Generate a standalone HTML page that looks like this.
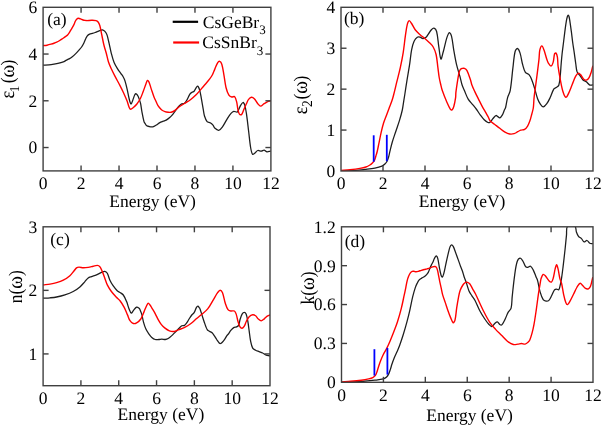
<!DOCTYPE html>
<html><head><meta charset="utf-8"><title>Optical properties</title>
<style>
html,body{margin:0;padding:0;background:#fff;}
body{width:602px;height:425px;overflow:hidden;font-family:"Liberation Serif",serif;}
svg{display:block;will-change:transform;}
</style></head><body>
<svg width="602" height="425" viewBox="0 0 602 425" font-family='"Liberation Serif", serif' fill="#000" text-rendering="geometricPrecision"><defs><clipPath id="cpa"><rect x="43.10" y="7.30" width="227.80" height="163.60"/></clipPath><clipPath id="cpb"><rect x="341.00" y="7.30" width="252.00" height="163.70"/></clipPath><clipPath id="cpc"><rect x="43.10" y="226.80" width="226.90" height="158.90"/></clipPath><clipPath id="cpd"><rect x="341.50" y="226.80" width="251.50" height="155.50"/></clipPath></defs><path clip-path="url(#cpa)" d="M43.00,65.10 C45.00,65.00 47.01,64.98 49.00,64.80 C50.67,64.65 52.34,64.38 54.00,64.10 C55.67,63.82 57.35,63.51 59.00,63.10 C60.69,62.68 62.39,62.22 64.00,61.60 C64.72,61.32 65.32,60.77 66.00,60.40 C66.98,59.87 68.02,59.44 69.00,58.90 C70.02,58.34 71.09,57.82 72.00,57.10 C73.42,55.98 74.72,54.68 76.00,53.40 C76.98,52.42 77.88,51.35 78.80,50.30 C79.75,49.21 80.78,48.18 81.60,47.00 C82.48,45.74 83.21,44.37 83.90,43.00 C84.55,41.71 84.98,40.31 85.60,39.00 C86.11,37.94 86.56,36.78 87.30,35.90 C87.90,35.18 88.76,34.61 89.60,34.20 C90.46,33.78 91.47,33.68 92.40,33.40 C93.34,33.12 94.27,32.82 95.20,32.50 C95.71,32.32 96.20,32.10 96.70,31.90 C98.10,31.33 99.48,30.70 100.90,30.20 C101.38,30.03 101.94,29.76 102.40,29.90 C103.27,30.16 104.26,30.71 104.90,31.40 C105.79,32.37 106.55,33.63 107.00,34.90 C107.95,37.63 108.44,40.56 109.10,43.40 C109.87,46.69 110.44,50.03 111.30,53.30 C112.11,56.40 112.90,59.55 114.10,62.50 C115.00,64.71 116.34,66.76 117.60,68.80 C118.67,70.53 119.93,72.13 121.10,73.80 C121.73,74.70 122.47,75.54 123.00,76.50 C123.73,77.81 124.44,79.17 124.90,80.60 C125.80,83.37 126.43,86.25 127.10,89.10 C127.87,92.38 128.35,95.74 129.20,99.00 C129.65,100.71 130.33,103.73 131.00,104.00 C131.50,104.20 132.19,101.63 132.70,100.40 C133.46,98.56 133.89,96.51 134.80,94.80 C135.06,94.31 135.80,93.63 136.20,93.80 C136.90,94.10 137.68,95.28 138.10,96.20 C139.11,98.42 139.91,100.81 140.50,103.20 C141.18,105.98 141.36,108.88 141.90,111.70 C142.53,115.01 143.14,118.36 144.00,121.60 C144.17,122.23 144.65,122.74 145.00,123.30 C145.45,124.01 145.76,124.91 146.40,125.40 C147.16,125.98 148.23,126.29 149.20,126.50 C150.36,126.75 151.67,127.04 152.80,126.80 C154.03,126.54 155.18,125.67 156.30,125.00 C157.51,124.27 158.56,123.27 159.80,122.60 C160.90,122.00 162.13,121.66 163.30,121.20 C164.26,120.82 165.31,120.60 166.20,120.10 C167.44,119.40 168.64,118.55 169.70,117.60 C170.97,116.45 172.11,115.13 173.20,113.80 C174.21,112.56 175.03,111.17 176.00,109.90 C176.93,108.67 177.84,107.41 178.90,106.30 C179.74,105.41 180.65,104.48 181.70,103.90 C182.52,103.45 183.78,103.76 184.50,103.20 C185.55,102.39 186.28,101.01 187.00,99.80 C188.08,97.97 188.74,95.85 189.90,94.10 C190.40,93.35 191.24,92.81 192.00,92.30 C192.64,91.87 193.58,91.82 194.10,91.30 C194.74,90.66 194.99,89.60 195.50,88.80 C196.05,87.94 196.62,86.69 197.30,86.30 C197.62,86.12 198.27,86.70 198.50,87.10 C199.10,88.13 199.49,89.40 199.80,90.60 C200.39,92.90 200.77,95.26 201.20,97.60 C201.94,101.59 202.58,105.60 203.30,109.60 C203.68,111.74 203.85,113.95 204.50,116.00 C205.12,117.95 205.86,120.14 207.10,121.60 C207.76,122.38 209.27,122.15 210.20,122.70 C211.24,123.32 212.22,124.18 213.00,125.10 C213.72,125.94 213.90,127.27 214.70,128.00 C215.80,129.00 217.47,130.49 218.70,130.30 C220.07,130.09 221.49,128.18 222.50,126.80 C224.42,124.18 225.74,121.07 227.50,118.30 C228.57,116.61 229.67,114.88 231.00,113.40 C231.77,112.54 232.76,111.53 233.80,111.30 C234.86,111.06 236.54,112.60 237.30,112.00 C238.64,110.93 239.02,108.11 240.10,106.30 C240.92,104.94 242.05,102.79 243.00,102.50 C243.58,102.32 244.42,103.98 244.70,104.90 C245.59,107.84 246.04,111.01 246.50,114.10 C247.34,119.71 247.90,125.37 248.60,131.00 C249.30,136.67 249.74,142.39 250.70,148.00 C251.07,150.16 251.59,153.15 252.60,154.30 C253.03,154.78 254.26,153.44 255.00,152.90 C255.99,152.18 256.73,150.81 257.80,150.50 C258.83,150.21 260.16,151.17 261.30,151.10 C262.26,151.04 263.22,149.98 264.10,150.10 C265.12,150.24 265.96,151.74 267.00,151.90 C268.09,152.07 269.33,151.37 270.50,151.10" fill="none" stroke="#1e1e1e" stroke-width="1.28" stroke-linejoin="round" stroke-linecap="round"/><path clip-path="url(#cpa)" d="M43.00,45.60 C44.33,45.47 45.68,45.43 47.00,45.20 C48.35,44.96 49.68,44.59 51.00,44.20 C52.18,43.85 53.35,43.44 54.50,43.00 C55.68,42.54 56.88,42.09 58.00,41.50 C59.05,40.95 60.00,40.24 61.00,39.60 C61.83,39.07 62.68,38.56 63.50,38.00 C64.35,37.42 65.17,36.81 66.00,36.20 C66.54,35.81 67.16,35.49 67.60,35.00 C68.33,34.19 68.90,33.22 69.50,32.30 C70.10,31.39 70.65,30.44 71.20,29.50 C72.08,27.98 73.01,26.47 73.80,24.90 C74.38,23.74 74.71,22.45 75.30,21.30 C75.74,20.45 76.24,19.54 76.90,18.90 C77.27,18.54 77.89,18.30 78.40,18.30 C79.09,18.30 79.82,18.65 80.50,18.90 C81.38,19.22 82.20,19.74 83.10,20.00 C84.04,20.27 85.03,20.34 86.00,20.50 C86.27,20.54 86.53,20.61 86.80,20.60 C88.43,20.54 90.07,20.30 91.70,20.30 C93.13,20.30 94.65,20.24 96.00,20.60 C96.79,20.81 97.60,21.36 98.10,22.00 C98.87,22.99 99.44,24.26 99.80,25.50 C100.61,28.26 101.00,31.17 101.60,34.00 C102.37,37.67 103.01,41.36 103.90,45.00 C104.58,47.80 105.55,50.52 106.30,53.30 C107.05,56.09 107.52,58.96 108.40,61.70 C109.18,64.13 110.25,66.47 111.30,68.80 C112.38,71.20 113.59,73.56 114.80,75.90 C116.49,79.16 118.31,82.34 120.00,85.60 C121.21,87.94 122.40,90.30 123.50,92.70 C124.77,95.47 126.01,98.26 127.10,101.10 C127.91,103.19 128.33,105.46 129.20,107.50 C129.50,108.19 130.03,109.30 130.60,109.30 C131.43,109.30 132.56,108.21 133.40,107.50 C134.66,106.44 135.90,105.30 136.90,104.00 C138.26,102.23 139.50,100.30 140.50,98.30 C141.63,96.03 142.40,93.58 143.30,91.20 C144.27,88.65 145.11,86.04 146.10,83.50 C146.51,82.44 146.92,80.68 147.50,80.40 C147.89,80.21 148.70,81.42 149.00,82.10 C149.97,84.32 150.52,86.77 151.30,89.10 C152.25,91.94 153.14,94.80 154.20,97.60 C154.58,98.60 155.14,99.53 155.60,100.50 C156.41,102.20 157.01,104.02 158.00,105.60 C158.88,107.02 160.01,108.33 161.20,109.50 C161.85,110.13 162.69,110.59 163.50,111.00 C164.35,111.43 165.26,111.84 166.20,112.00 C167.80,112.27 169.54,112.56 171.10,112.30 C172.34,112.09 173.53,111.32 174.60,110.60 C176.13,109.56 177.38,108.09 178.90,107.00 C180.68,105.72 182.64,104.68 184.50,103.50 C186.47,102.25 188.53,101.10 190.40,99.70 C192.40,98.20 194.33,96.57 196.10,94.80 C198.10,92.80 199.83,90.53 201.70,88.40 C203.13,86.77 204.59,85.16 206.00,83.50 C207.19,82.09 208.40,80.68 209.50,79.20 C210.50,77.85 211.52,76.48 212.30,75.00 C213.29,73.12 213.95,71.06 214.80,69.10 C215.72,66.99 216.41,64.69 217.60,62.80 C218.04,62.09 219.11,61.10 219.70,61.30 C220.51,61.57 221.45,63.08 221.80,64.20 C222.85,67.58 223.26,71.26 223.90,74.80 C224.66,79.02 224.98,83.35 226.00,87.50 C226.65,90.15 227.55,92.95 228.90,95.20 C229.45,96.11 230.69,96.75 231.70,97.00 C232.56,97.21 233.94,96.07 234.50,96.60 C235.57,97.61 236.15,99.86 236.60,101.60 C237.31,104.33 237.35,107.25 238.00,110.00 C238.35,111.51 238.76,113.35 239.60,114.40 C239.96,114.85 241.21,114.93 241.60,114.50 C242.58,113.43 243.01,111.44 243.70,109.90 C244.65,107.77 245.52,105.61 246.50,103.50 C247.15,102.11 247.67,100.57 248.60,99.40 C249.31,98.51 250.41,97.42 251.40,97.30 C252.31,97.19 253.56,97.96 254.30,98.70 C255.70,100.10 256.49,102.16 257.80,103.70 C258.59,104.63 259.62,106.10 260.60,106.10 C261.72,106.10 262.91,104.46 264.10,103.70 C265.27,102.96 266.44,102.15 267.70,101.60 C268.57,101.22 269.57,101.13 270.50,100.90" fill="none" stroke="#ff0000" stroke-width="1.4" stroke-linejoin="round" stroke-linecap="round"/><path clip-path="url(#cpb)" d="M341.20,170.90 C345.80,170.73 350.41,170.69 355.00,170.40 C358.31,170.19 361.61,169.78 364.90,169.40 C368.24,169.01 371.60,168.72 374.90,168.10 C377.27,167.65 379.70,167.10 381.90,166.20 C383.03,165.74 384.00,164.84 384.90,164.00 C385.67,163.28 386.41,162.43 386.90,161.50 C387.64,160.10 388.14,158.53 388.60,157.00 C389.14,155.17 389.44,153.26 389.90,151.40 C390.67,148.26 391.39,145.10 392.30,142.00 C393.32,138.53 394.56,135.13 395.70,131.70 C396.96,127.93 398.34,124.20 399.50,120.40 C400.54,116.97 401.54,113.50 402.30,110.00 C402.97,106.90 403.29,103.73 403.80,100.60 C404.13,98.57 404.48,96.54 404.80,94.50 C405.51,89.94 406.17,85.36 406.90,80.80 C407.80,75.16 408.84,69.54 409.70,63.90 C410.41,59.21 410.70,54.44 411.60,49.80 C412.16,46.91 412.90,43.95 414.10,41.30 C414.80,39.75 416.00,38.09 417.30,37.20 C418.00,36.72 419.21,36.99 420.10,37.20 C421.08,37.43 421.94,38.43 422.90,38.50 C423.81,38.57 424.98,38.20 425.70,37.60 C426.85,36.63 427.58,35.08 428.50,33.80 C429.48,32.44 430.25,30.87 431.40,29.70 C432.09,29.00 433.28,27.95 434.00,28.20 C435.01,28.55 436.26,30.18 436.60,31.50 C437.86,36.34 438.01,41.64 438.80,46.70 C439.45,50.84 439.98,57.99 440.90,59.10 C441.45,59.76 442.53,54.40 443.20,52.00 C444.50,47.33 445.33,42.50 446.80,37.90 C447.40,36.03 448.48,32.93 449.40,32.60 C450.05,32.37 451.17,34.87 451.50,36.20 C452.64,40.77 452.97,45.61 453.80,50.30 C454.64,55.01 455.41,59.75 456.50,64.40 C457.47,68.55 458.88,72.59 460.00,76.70 C460.75,79.45 461.24,82.29 462.10,85.00 C462.71,86.92 463.60,88.75 464.40,90.60 C465.63,93.45 466.62,96.46 468.20,99.10 C469.45,101.19 471.35,102.88 472.90,104.80 C474.15,106.35 475.43,107.89 476.60,109.50 C477.93,111.32 479.06,113.29 480.40,115.10 C481.60,116.72 482.78,118.40 484.20,119.80 C485.28,120.86 486.58,121.93 487.90,122.50 C488.51,122.76 489.48,122.70 490.00,122.30 C491.18,121.37 491.93,119.71 493.00,118.50 C493.93,117.44 494.94,116.00 496.00,115.50 C496.44,115.30 497.00,116.10 497.50,116.40 C498.27,116.86 499.14,118.02 499.80,117.80 C500.77,117.48 501.73,115.92 502.40,114.80 C503.23,113.42 503.65,111.79 504.30,110.30 C504.71,109.36 505.34,108.49 505.60,107.50 C506.44,104.26 506.72,100.84 507.60,97.60 C508.25,95.21 509.77,93.04 510.20,90.60 C511.53,83.14 511.96,75.46 512.90,67.90 C513.56,62.59 513.84,57.13 515.00,52.00 C515.30,50.66 516.55,48.37 517.30,48.50 C518.22,48.67 519.46,51.29 520.00,52.90 C521.23,56.59 521.55,60.62 522.60,64.40 C523.35,67.12 523.96,70.13 525.40,72.40 C526.16,73.60 528.28,73.69 529.20,74.80 C530.48,76.35 531.23,78.47 532.00,80.40 C533.10,83.17 533.93,86.05 534.80,88.90 C535.79,92.15 536.43,95.53 537.60,98.70 C538.33,100.69 539.30,102.68 540.50,104.40 C541.20,105.41 542.37,107.00 543.30,106.90 C544.47,106.77 545.88,104.96 546.80,103.70 C548.21,101.76 549.25,99.49 550.30,97.30 C551.62,94.56 552.33,91.38 553.90,88.90 C554.46,88.01 555.82,87.84 556.70,87.20 C557.46,86.64 558.53,86.16 558.80,85.30 C559.69,82.50 559.86,79.25 560.20,76.20 C560.66,71.98 560.84,67.73 561.20,63.50 C561.47,60.26 561.75,57.03 562.10,53.80 C562.51,50.03 563.03,46.27 563.50,42.50 C563.97,38.73 564.40,34.96 564.90,31.20 C565.34,27.90 565.74,24.58 566.30,21.30 C566.57,19.68 566.92,18.05 567.40,16.50 C567.55,16.02 567.93,15.20 568.20,15.20 C568.47,15.20 568.87,16.02 569.00,16.50 C569.43,18.05 569.65,19.69 569.90,21.30 C570.42,24.59 570.86,27.90 571.30,31.20 C571.80,34.96 572.18,38.74 572.70,42.50 C573.22,46.27 573.86,50.03 574.40,53.80 C574.89,57.20 575.29,60.61 575.80,64.00 C576.19,66.64 576.21,69.47 577.10,71.90 C577.61,73.30 579.09,74.26 580.00,75.50 C580.99,76.86 581.64,78.54 582.80,79.70 C583.74,80.64 585.23,80.97 586.30,81.80 C587.56,82.77 588.47,84.46 589.80,85.10 C590.60,85.49 591.73,84.97 592.70,84.90" fill="none" stroke="#1e1e1e" stroke-width="1.28" stroke-linejoin="round" stroke-linecap="round"/><path clip-path="url(#cpb)" d="M341.20,170.40 C344.13,170.17 347.08,170.01 350.00,169.70 C353.31,169.35 356.62,168.96 359.90,168.40 C361.92,168.06 363.97,167.66 365.90,167.00 C367.30,166.52 368.64,165.78 369.90,165.00 C370.80,164.44 371.65,163.75 372.40,163.00 C373.15,162.25 373.93,161.44 374.40,160.50 C375.10,159.11 375.43,157.51 375.90,156.00 C376.36,154.51 376.84,153.02 377.20,151.50 C377.80,148.98 378.28,146.44 378.80,143.90 C379.58,140.14 380.25,136.35 381.10,132.60 C381.82,129.45 382.55,126.29 383.50,123.20 C384.28,120.65 385.37,118.20 386.30,115.70 C387.23,113.20 388.16,110.70 389.10,108.20 C390.06,105.66 391.13,103.16 392.00,100.60 C392.63,98.76 393.12,96.88 393.60,95.00 C394.65,90.91 395.60,86.80 396.60,82.70 C397.83,77.67 399.19,72.66 400.30,67.60 C401.39,62.63 402.40,57.63 403.20,52.60 C404.10,46.99 404.58,41.32 405.40,35.70 C405.95,31.92 406.38,28.07 407.30,24.40 C407.64,23.04 408.44,20.76 409.20,20.60 C409.87,20.46 410.91,22.46 411.60,23.50 C412.98,25.59 413.90,28.02 415.40,30.00 C416.73,31.75 418.46,33.22 420.10,34.70 C421.59,36.05 423.27,37.19 424.80,38.50 C426.41,39.89 428.01,41.29 429.50,42.80 C430.81,44.13 432.30,45.40 433.20,47.00 C434.50,49.30 435.51,51.90 436.10,54.50 C437.07,58.77 437.31,63.23 437.90,67.60 C438.34,70.90 438.66,74.22 439.20,77.50 C439.56,79.69 440.09,81.84 440.60,84.00 C441.12,86.21 441.56,88.46 442.30,90.60 C443.63,94.46 445.18,98.25 446.80,102.00 C447.85,104.42 448.91,106.95 450.30,109.10 C450.64,109.62 451.62,110.28 452.00,110.00 C452.78,109.42 453.44,107.75 453.80,106.50 C454.64,103.62 455.16,100.59 455.60,97.60 C455.86,95.89 455.69,94.12 455.90,92.40 C456.43,88.06 457.11,83.72 457.80,79.40 C458.18,77.02 458.50,74.62 459.10,72.30 C459.37,71.25 459.78,70.12 460.40,69.30 C460.74,68.85 461.43,68.64 462.00,68.50 C462.77,68.31 463.72,68.01 464.40,68.30 C465.38,68.71 466.48,69.60 467.00,70.60 C468.55,73.60 469.49,77.04 470.60,80.30 C471.12,81.84 471.34,83.48 471.90,85.00 C472.74,87.25 473.78,89.42 474.80,91.60 C475.98,94.12 477.25,96.61 478.50,99.10 C479.75,101.61 480.97,104.13 482.30,106.60 C483.50,108.83 484.84,110.99 486.10,113.20 C486.91,114.63 487.75,116.04 488.50,117.50 C489.05,118.57 489.22,119.93 490.00,120.80 C491.22,122.16 493.01,123.06 494.50,124.20 C496.27,125.56 498.02,126.96 499.80,128.30 C501.52,129.59 503.16,131.03 505.00,132.10 C506.42,132.93 508.01,133.72 509.60,134.00 C511.04,134.25 512.69,134.10 514.10,133.70 C515.42,133.33 516.56,132.35 517.80,131.70 C518.79,131.18 519.75,130.56 520.80,130.20 C522.02,129.79 523.54,130.04 524.60,129.40 C525.81,128.67 526.83,127.35 527.60,126.10 C528.60,124.48 529.27,122.62 529.90,120.80 C530.67,118.58 531.20,116.27 531.80,114.00 C532.33,112.01 533.02,110.04 533.30,108.00 C533.79,104.47 533.70,100.85 534.10,97.30 C534.90,90.25 535.99,83.24 536.90,76.20 C537.63,70.54 538.37,64.87 539.00,59.20 C539.34,56.17 539.16,53.03 539.80,50.10 C540.13,48.59 541.20,45.90 541.90,45.90 C542.60,45.90 543.46,48.63 544.00,50.10 C545.10,53.10 545.79,56.26 546.80,59.30 C547.19,60.49 547.54,61.75 548.20,62.80 C548.94,63.98 550.19,66.11 551.00,66.00 C551.85,65.88 552.79,63.51 553.20,62.10 C553.99,59.41 553.81,56.26 554.60,53.70 C554.74,53.23 555.76,52.70 556.00,53.00 C556.69,53.86 557.17,55.75 557.40,57.20 C557.87,60.19 557.71,63.29 558.10,66.30 C558.65,70.55 559.39,74.79 560.20,79.00 C561.02,83.26 561.72,87.59 563.00,91.70 C563.62,93.69 564.84,97.04 565.90,97.30 C566.74,97.51 567.96,94.60 568.70,93.10 C570.06,90.37 571.03,87.43 572.20,84.60 C573.36,81.80 574.25,78.81 575.70,76.20 C576.38,74.98 577.58,73.39 578.60,73.10 C579.25,72.92 580.13,74.11 580.70,74.80 C581.76,76.08 582.33,77.89 583.50,79.00 C584.20,79.66 585.47,80.31 586.30,80.10 C587.34,79.84 588.47,78.64 589.10,77.60 C590.13,75.91 590.68,73.84 591.30,71.90 C591.88,70.07 592.23,68.17 592.70,66.30" fill="none" stroke="#ff0000" stroke-width="1.4" stroke-linejoin="round" stroke-linecap="round"/><path clip-path="url(#cpc)" d="M43.30,298.20 C45.53,298.07 47.77,298.00 50.00,297.80 C52.21,297.60 54.43,297.42 56.60,297.00 C59.40,296.46 62.20,295.80 64.90,294.90 C67.73,293.96 70.58,292.90 73.20,291.50 C75.58,290.23 77.84,288.64 79.90,286.90 C81.74,285.34 83.25,283.39 84.90,281.60 C86.02,280.39 86.92,278.87 88.20,277.90 C89.12,277.20 90.39,277.00 91.50,276.60 C93.16,276.00 94.88,275.58 96.50,274.90 C98.21,274.18 99.79,273.14 101.50,272.40 C102.56,271.94 103.79,271.14 104.80,271.30 C105.73,271.44 106.78,272.41 107.30,273.30 C108.45,275.27 108.81,277.78 109.80,279.90 C110.74,281.91 111.85,283.87 113.10,285.70 C114.31,287.47 115.68,289.20 117.20,290.70 C117.98,291.47 119.09,291.86 120.00,292.50 C121.13,293.29 122.51,293.91 123.30,295.00 C124.71,296.94 125.67,299.33 126.60,301.60 C127.60,304.03 128.11,306.67 129.10,309.10 C129.68,310.53 130.47,312.88 131.30,313.20 C131.87,313.42 132.60,311.51 133.30,310.70 C134.37,309.47 135.36,307.63 136.60,307.10 C137.29,306.80 138.41,307.67 139.10,308.20 C139.54,308.54 139.77,309.17 140.00,309.70 C140.67,311.23 141.35,312.79 141.80,314.40 C142.51,316.92 142.79,319.57 143.50,322.10 C144.16,324.47 144.89,326.87 145.90,329.10 C146.66,330.77 147.74,332.30 148.80,333.80 C149.70,335.07 150.64,336.38 151.80,337.40 C152.81,338.28 154.04,339.12 155.30,339.50 C156.38,339.82 157.64,339.57 158.80,339.50 C159.80,339.44 160.80,339.10 161.80,339.10 C162.97,339.10 164.16,339.61 165.30,339.50 C166.29,339.41 167.34,339.02 168.20,338.50 C169.50,337.72 170.66,336.63 171.80,335.60 C173.02,334.50 174.14,333.27 175.30,332.10 C176.47,330.91 177.60,329.66 178.80,328.50 C179.77,327.56 180.67,326.42 181.80,325.80 C182.57,325.38 183.75,325.81 184.50,325.40 C185.32,324.95 185.93,324.00 186.50,323.20 C187.56,321.70 188.40,320.05 189.40,318.50 C190.17,317.31 190.92,316.10 191.80,315.00 C192.49,314.14 193.52,313.53 194.10,312.60 C195.09,311.00 195.54,309.01 196.50,307.40 C196.81,306.88 197.47,306.13 197.90,306.20 C198.43,306.29 198.88,307.35 199.40,307.90 C199.51,308.02 199.75,308.04 199.80,308.20 C200.91,311.41 201.85,314.74 202.90,318.00 C203.35,319.40 203.82,320.80 204.30,322.20 C204.79,323.64 205.22,325.10 205.80,326.50 C206.29,327.70 206.73,329.01 207.50,330.00 C208.00,330.64 208.88,330.96 209.60,331.40 C210.42,331.90 211.41,332.17 212.10,332.80 C212.94,333.57 213.54,334.64 214.20,335.60 C215.07,336.87 215.84,338.22 216.70,339.50 C217.50,340.69 218.23,342.01 219.20,343.00 C219.53,343.34 220.17,343.60 220.60,343.50 C221.20,343.36 221.82,342.79 222.30,342.30 C223.22,341.36 224.05,340.29 224.80,339.20 C225.58,338.06 226.11,336.74 226.90,335.60 C227.31,335.00 227.96,334.58 228.40,334.00 C229.26,332.85 229.89,331.50 230.80,330.40 C231.65,329.37 232.59,328.28 233.70,327.60 C234.49,327.11 235.64,327.29 236.50,326.90 C237.27,326.55 238.24,326.13 238.60,325.40 C239.41,323.76 239.43,321.64 240.00,319.80 C240.60,317.87 241.12,315.79 242.10,314.10 C242.55,313.33 243.59,312.40 244.30,312.40 C244.93,312.40 245.80,313.36 246.10,314.10 C246.97,316.29 247.36,318.81 247.80,321.20 C248.40,324.48 248.73,327.80 249.20,331.10 C249.67,334.40 249.93,337.74 250.60,341.00 C251.10,343.41 251.58,346.03 252.70,348.10 C253.24,349.10 254.56,349.63 255.60,350.20 C256.69,350.80 257.93,351.13 259.10,351.60 C260.27,352.07 261.48,352.45 262.60,353.00 C263.84,353.61 264.93,354.58 266.20,355.10 C267.23,355.52 268.40,355.57 269.50,355.80" fill="none" stroke="#1e1e1e" stroke-width="1.28" stroke-linejoin="round" stroke-linecap="round"/><path clip-path="url(#cpc)" d="M43.30,284.90 C45.53,284.63 47.78,284.47 50.00,284.10 C52.22,283.73 54.45,283.33 56.60,282.70 C58.88,282.03 61.21,281.30 63.30,280.20 C65.64,278.97 67.91,277.43 69.90,275.70 C71.51,274.30 72.71,272.44 74.10,270.80 C74.91,269.84 75.54,268.63 76.50,267.90 C77.17,267.39 78.15,267.11 79.00,267.10 C80.38,267.08 81.79,267.75 83.20,267.80 C84.86,267.85 86.55,267.65 88.20,267.40 C89.88,267.15 91.53,266.67 93.20,266.30 C94.57,266.00 95.98,265.34 97.30,265.40 C98.18,265.44 99.25,265.91 99.80,266.60 C100.91,267.98 101.56,269.89 102.30,271.60 C103.23,273.76 103.97,276.00 104.80,278.20 C105.64,280.43 106.25,282.78 107.30,284.90 C108.45,287.21 109.87,289.42 111.40,291.50 C112.91,293.55 114.67,295.43 116.40,297.30 C117.54,298.53 118.98,299.48 120.00,300.80 C121.58,302.85 122.98,305.10 124.20,307.40 C125.48,309.80 126.41,312.40 127.50,314.90 C128.34,316.83 128.85,319.00 130.00,320.70 C130.79,321.87 132.06,323.09 133.30,323.50 C134.26,323.82 135.68,323.45 136.60,322.90 C138.18,321.95 139.76,320.56 140.80,319.00 C142.26,316.79 143.02,314.08 144.10,311.60 C144.95,309.64 145.67,307.61 146.60,305.70 C147.03,304.81 147.59,303.33 148.20,303.20 C148.72,303.09 149.49,304.33 150.00,305.00 C150.69,305.90 151.21,306.93 151.80,307.90 C152.98,309.86 154.21,311.79 155.30,313.80 C156.34,315.72 157.14,317.79 158.20,319.70 C159.10,321.32 160.05,322.95 161.20,324.40 C162.22,325.69 163.41,326.88 164.70,327.90 C166.15,329.05 167.71,330.25 169.40,330.90 C170.84,331.45 172.58,331.69 174.10,331.50 C175.71,331.29 177.24,330.31 178.80,329.70 C180.77,328.94 182.82,328.34 184.70,327.40 C186.75,326.37 188.74,325.15 190.60,323.80 C192.28,322.58 193.73,321.06 195.30,319.70 C196.66,318.53 198.02,317.35 199.40,316.20 C199.78,315.88 200.22,315.63 200.60,315.30 C202.99,313.20 205.70,311.34 207.70,308.90 C209.93,306.17 211.44,302.84 213.30,299.80 C214.74,297.44 216.00,294.93 217.60,292.70 C218.27,291.77 219.27,290.30 220.10,290.30 C220.91,290.30 222.09,291.68 222.50,292.70 C223.82,296.01 224.17,299.83 225.30,303.30 C226.01,305.47 226.74,307.84 228.00,309.60 C228.57,310.40 229.81,310.78 230.80,311.00 C231.94,311.25 233.50,310.48 234.40,311.00 C235.30,311.52 235.82,312.98 236.20,314.10 C236.98,316.38 237.21,318.87 237.90,321.20 C238.48,323.14 239.01,325.23 240.00,326.90 C240.41,327.59 241.46,328.42 242.10,328.30 C242.89,328.15 243.77,326.97 244.30,326.10 C245.21,324.61 245.58,322.77 246.40,321.20 C247.21,319.64 248.00,317.92 249.20,316.70 C250.10,315.78 251.49,314.97 252.70,314.80 C253.63,314.67 254.81,315.21 255.60,315.80 C256.71,316.64 257.34,318.14 258.40,319.10 C259.21,319.84 260.27,320.90 261.20,320.90 C262.13,320.90 263.14,319.79 264.00,319.10 C265.04,318.26 265.81,317.05 266.90,316.30 C267.81,315.68 268.97,315.43 270.00,315.00" fill="none" stroke="#ff0000" stroke-width="1.4" stroke-linejoin="round" stroke-linecap="round"/><path clip-path="url(#cpd)" d="M341.90,382.30 C348.33,382.03 354.78,381.91 361.20,381.50 C365.78,381.21 370.35,380.73 374.90,380.20 C377.75,379.87 380.68,379.64 383.40,378.90 C384.58,378.58 385.72,377.83 386.60,377.00 C387.49,376.16 388.15,375.01 388.70,373.90 C389.38,372.54 389.82,371.05 390.30,369.60 C390.88,367.85 391.32,366.05 391.90,364.30 C392.55,362.35 393.22,360.40 394.00,358.50 C394.95,356.17 396.10,353.92 397.10,351.60 C397.97,349.58 398.85,347.56 399.60,345.50 C400.88,341.96 402.09,338.39 403.20,334.80 C404.55,330.43 405.81,326.02 407.00,321.60 C408.01,317.85 408.94,314.08 409.80,310.30 C410.80,305.92 411.54,301.47 412.60,297.10 C413.37,293.90 414.27,290.72 415.30,287.60 C415.77,286.16 416.41,284.76 417.10,283.40 C417.71,282.19 418.33,280.91 419.20,279.90 C419.86,279.14 420.84,278.65 421.70,278.10 C422.50,277.59 423.43,277.25 424.20,276.70 C425.06,276.09 425.89,275.38 426.60,274.60 C427.29,273.85 427.92,273.00 428.40,272.10 C428.99,271.00 429.32,269.76 429.80,268.60 C430.25,267.53 430.70,266.45 431.20,265.40 C431.87,263.99 432.65,262.62 433.30,261.20 C433.61,260.52 433.79,259.78 434.10,259.10 C434.46,258.31 434.79,257.48 435.30,256.80 C435.59,256.41 436.22,255.70 436.50,255.90 C437.06,256.30 437.56,257.64 437.80,258.60 C438.53,261.54 438.82,264.61 439.40,267.60 C439.88,270.08 440.27,272.61 441.00,275.00 C441.24,275.78 441.93,277.25 442.30,277.10 C442.83,276.89 443.39,275.02 443.70,273.90 C444.56,270.78 445.10,267.57 445.80,264.40 C446.50,261.20 447.14,257.98 447.90,254.80 C448.54,252.15 449.07,249.42 450.00,246.90 C450.30,246.09 451.03,244.89 451.60,244.80 C452.09,244.72 452.85,245.75 453.20,246.40 C454.08,248.05 454.63,249.92 455.30,251.70 C456.23,254.16 457.11,256.63 458.00,259.10 C458.88,261.56 459.69,264.05 460.60,266.50 C461.16,268.01 461.88,269.47 462.40,271.00 C463.04,272.87 463.47,274.82 464.10,276.70 C464.74,278.62 465.54,280.49 466.20,282.40 C467.17,285.22 467.84,288.17 469.00,290.90 C469.74,292.64 470.88,294.20 471.90,295.80 C472.85,297.30 474.07,298.64 474.90,300.20 C476.70,303.60 478.00,307.29 479.80,310.70 C481.30,313.55 483.01,316.32 484.80,319.00 C486.08,320.92 487.44,322.83 489.00,324.50 C489.77,325.33 490.93,326.65 491.80,326.50 C492.87,326.32 493.72,324.40 494.80,323.50 C495.55,322.87 496.55,321.75 497.30,321.90 C498.21,322.08 498.84,323.86 499.80,324.50 C500.34,324.86 501.37,325.30 501.80,324.90 C503.03,323.76 503.93,321.63 504.80,319.90 C506.03,317.47 506.81,314.79 508.10,312.40 C508.91,310.89 510.68,309.82 511.10,308.20 C512.05,304.55 511.78,300.46 512.20,296.60 C512.98,289.33 513.67,282.04 514.70,274.80 C515.34,270.34 515.82,265.66 517.20,261.50 C517.65,260.13 519.19,258.29 520.20,258.20 C521.06,258.12 522.12,259.94 522.80,261.00 C523.92,262.74 524.39,265.05 525.60,266.60 C526.03,267.15 527.01,267.36 527.70,267.30 C528.64,267.22 529.78,265.84 530.50,266.20 C531.65,266.77 532.57,268.69 533.30,270.10 C534.47,272.36 535.23,274.83 536.20,277.20 C536.66,278.33 537.29,279.42 537.60,280.60 C538.59,284.32 539.02,288.21 540.10,291.90 C540.88,294.58 541.77,297.47 543.20,299.70 C543.73,300.53 545.03,300.98 546.00,301.10 C546.93,301.21 548.24,301.05 548.90,300.40 C550.14,299.18 550.82,297.16 551.70,295.50 C552.69,293.63 553.29,291.38 554.50,289.80 C554.92,289.25 555.90,289.10 556.60,289.10 C557.30,289.10 558.31,290.19 558.70,289.80 C559.48,289.02 559.75,287.03 560.10,285.60 C560.72,283.03 561.19,280.41 561.60,277.80 C562.15,274.31 562.57,270.81 563.00,267.30 C563.74,261.21 564.44,255.10 565.10,249.00 C565.61,244.30 566.00,239.60 566.50,234.90 C566.80,232.06 565.99,227.91 567.50,226.40 C568.82,225.08 573.32,225.35 575.00,226.40 C576.29,227.21 575.76,230.20 576.40,232.00 C576.93,233.50 577.56,235.07 578.50,236.30 C579.19,237.20 580.48,237.58 581.30,238.40 C582.35,239.45 582.99,241.49 584.10,241.90 C584.89,242.19 586.15,240.29 587.00,240.50 C588.05,240.76 588.72,242.67 589.80,243.30 C590.49,243.70 591.47,243.50 592.30,243.60" fill="none" stroke="#1e1e1e" stroke-width="1.28" stroke-linejoin="round" stroke-linecap="round"/><path clip-path="url(#cpd)" d="M341.90,381.90 C344.80,381.70 347.70,381.56 350.60,381.30 C354.14,380.99 357.68,380.67 361.20,380.20 C363.68,379.87 366.16,379.45 368.60,378.90 C370.03,378.58 371.52,378.26 372.80,377.60 C373.79,377.09 374.76,376.30 375.40,375.40 C376.16,374.33 376.55,372.96 377.00,371.70 C377.61,370.00 378.03,368.22 378.60,366.50 C379.26,364.52 379.94,362.54 380.70,360.60 C381.47,358.64 382.27,356.69 383.20,354.80 C384.24,352.69 385.55,350.71 386.60,348.60 C387.81,346.17 388.93,343.69 390.00,341.20 C391.33,338.09 392.58,334.95 393.80,331.80 C395.08,328.49 396.42,325.18 397.50,321.80 C398.92,317.38 400.17,312.90 401.30,308.40 C402.40,304.03 403.25,299.60 404.20,295.20 C404.75,292.67 405.28,290.14 405.80,287.60 C406.28,285.27 406.63,282.91 407.20,280.60 C407.56,279.14 408.03,277.69 408.60,276.30 C409.10,275.09 409.64,273.83 410.40,272.80 C410.84,272.20 411.53,271.69 412.20,271.40 C412.70,271.19 413.34,271.24 413.90,271.30 C414.64,271.38 415.37,271.80 416.10,271.80 C416.90,271.80 417.72,271.53 418.50,271.30 C419.45,271.03 420.36,270.60 421.30,270.30 C422.26,270.00 423.23,269.74 424.20,269.50 C425.13,269.27 426.07,269.13 427.00,268.90 C427.94,268.66 428.89,268.44 429.80,268.10 C430.76,267.74 431.63,267.09 432.60,266.80 C433.39,266.56 434.33,266.36 435.10,266.50 C435.63,266.59 436.22,267.03 436.50,267.50 C437.05,268.43 437.32,269.61 437.60,270.70 C438.02,272.31 438.28,273.96 438.60,275.60 C438.98,277.50 439.31,279.41 439.70,281.30 C440.14,283.41 440.64,285.50 441.10,287.60 C441.61,289.93 441.96,292.31 442.60,294.60 C443.36,297.31 444.41,299.93 445.30,302.60 C446.18,305.23 446.98,307.89 447.90,310.50 C448.74,312.89 449.60,315.28 450.60,317.60 C451.37,319.38 452.25,322.24 453.20,322.80 C453.72,323.11 454.76,321.21 455.00,320.20 C455.93,316.24 456.07,311.99 456.70,307.90 C457.24,304.36 457.81,300.81 458.50,297.30 C458.97,294.91 459.39,292.47 460.20,290.20 C460.85,288.37 461.85,286.62 462.90,285.00 C463.45,284.16 464.20,283.38 465.00,282.80 C465.53,282.41 466.30,281.97 466.90,282.10 C467.87,282.31 469.01,282.99 469.70,283.80 C470.91,285.23 471.64,287.13 472.60,288.80 C473.54,290.43 474.57,292.01 475.40,293.70 C478.34,299.68 480.91,305.85 483.90,311.80 C485.71,315.41 487.57,319.05 489.80,322.40 C491.47,324.91 493.57,327.16 495.60,329.40 C497.47,331.46 499.53,333.33 501.50,335.30 C503.47,337.27 505.23,339.51 507.40,341.20 C509.16,342.57 511.22,343.93 513.30,344.50 C514.75,344.90 516.44,344.29 518.00,344.10 C519.17,343.96 520.33,343.50 521.50,343.50 C522.70,343.50 523.98,344.31 525.10,344.10 C526.15,343.91 527.16,343.04 528.00,342.30 C528.72,341.67 529.42,340.88 529.80,340.00 C530.78,337.75 531.45,335.30 532.10,332.90 C532.85,330.10 533.48,327.26 534.00,324.40 C534.85,319.72 535.52,315.01 536.20,310.30 C536.95,305.14 537.53,299.96 538.30,294.80 C538.93,290.56 539.67,286.33 540.40,282.10 C540.60,280.93 540.70,279.71 541.10,278.60 C541.63,277.14 542.29,275.01 543.20,274.40 C543.69,274.07 544.74,275.18 545.30,275.80 C546.64,277.28 547.52,279.27 548.90,280.70 C549.55,281.37 550.81,282.40 551.40,282.10 C552.21,281.70 552.75,279.84 553.10,278.60 C554.01,275.37 554.37,271.96 555.20,268.70 C555.54,267.36 556.13,264.80 556.60,264.80 C557.07,264.80 557.68,267.36 558.00,268.70 C558.78,271.96 559.11,275.34 559.90,278.60 C560.31,280.28 561.21,281.82 561.60,283.50 C562.47,287.22 562.87,291.06 563.70,294.80 C564.27,297.40 564.85,300.06 565.80,302.50 C566.12,303.33 566.96,304.78 567.50,304.60 C568.36,304.31 569.29,302.34 570.00,301.10 C571.32,298.81 572.41,296.37 573.60,294.00 C574.77,291.67 575.75,289.21 577.10,287.00 C577.95,285.61 579.11,283.47 580.20,283.20 C580.97,283.01 581.88,284.79 582.70,285.60 C583.64,286.52 584.41,287.79 585.50,288.40 C586.31,288.85 587.61,289.13 588.40,288.80 C589.28,288.43 590.12,287.30 590.50,286.30 C591.52,283.63 591.90,280.63 592.60,277.80" fill="none" stroke="#ff0000" stroke-width="1.4" stroke-linejoin="round" stroke-linecap="round"/><text x="43.10" y="189.20" text-anchor="middle" font-size="17.5" >0</text><line x1="81.07" y1="170.90" x2="81.07" y2="165.40" stroke="#404040" stroke-width="1.4"/><line x1="81.07" y1="7.30" x2="81.07" y2="12.80" stroke="#404040" stroke-width="1.4"/><text x="81.07" y="189.20" text-anchor="middle" font-size="17.5" >2</text><line x1="119.03" y1="170.90" x2="119.03" y2="165.40" stroke="#404040" stroke-width="1.4"/><line x1="119.03" y1="7.30" x2="119.03" y2="12.80" stroke="#404040" stroke-width="1.4"/><text x="119.03" y="189.20" text-anchor="middle" font-size="17.5" >4</text><line x1="157.00" y1="170.90" x2="157.00" y2="165.40" stroke="#404040" stroke-width="1.4"/><line x1="157.00" y1="7.30" x2="157.00" y2="12.80" stroke="#404040" stroke-width="1.4"/><text x="157.00" y="189.20" text-anchor="middle" font-size="17.5" >6</text><line x1="194.97" y1="170.90" x2="194.97" y2="165.40" stroke="#404040" stroke-width="1.4"/><line x1="194.97" y1="7.30" x2="194.97" y2="12.80" stroke="#404040" stroke-width="1.4"/><text x="194.97" y="189.20" text-anchor="middle" font-size="17.5" >8</text><line x1="232.93" y1="170.90" x2="232.93" y2="165.40" stroke="#404040" stroke-width="1.4"/><line x1="232.93" y1="7.30" x2="232.93" y2="12.80" stroke="#404040" stroke-width="1.4"/><text x="232.93" y="189.20" text-anchor="middle" font-size="17.5" >10</text><text x="270.90" y="189.20" text-anchor="middle" font-size="17.5" >12</text><line x1="43.10" y1="147.53" x2="48.60" y2="147.53" stroke="#404040" stroke-width="1.4"/><line x1="270.90" y1="147.53" x2="265.40" y2="147.53" stroke="#404040" stroke-width="1.4"/><text x="37.30" y="153.43" text-anchor="end" font-size="17.5" >0</text><line x1="43.10" y1="100.79" x2="48.60" y2="100.79" stroke="#404040" stroke-width="1.4"/><line x1="270.90" y1="100.79" x2="265.40" y2="100.79" stroke="#404040" stroke-width="1.4"/><text x="37.30" y="106.69" text-anchor="end" font-size="17.5" >2</text><line x1="43.10" y1="54.04" x2="48.60" y2="54.04" stroke="#404040" stroke-width="1.4"/><line x1="270.90" y1="54.04" x2="265.40" y2="54.04" stroke="#404040" stroke-width="1.4"/><text x="37.30" y="59.94" text-anchor="end" font-size="17.5" >4</text><text x="37.30" y="13.20" text-anchor="end" font-size="17.5" >6</text><rect x="43.10" y="7.30" width="227.80" height="163.60" fill="none" stroke="#404040" stroke-width="1.4"/><text x="341.00" y="189.30" text-anchor="middle" font-size="17.5" >0</text><line x1="383.00" y1="171.00" x2="383.00" y2="165.50" stroke="#404040" stroke-width="1.4"/><line x1="383.00" y1="7.30" x2="383.00" y2="12.80" stroke="#404040" stroke-width="1.4"/><text x="383.00" y="189.30" text-anchor="middle" font-size="17.5" >2</text><line x1="425.00" y1="171.00" x2="425.00" y2="165.50" stroke="#404040" stroke-width="1.4"/><line x1="425.00" y1="7.30" x2="425.00" y2="12.80" stroke="#404040" stroke-width="1.4"/><text x="425.00" y="189.30" text-anchor="middle" font-size="17.5" >4</text><line x1="467.00" y1="171.00" x2="467.00" y2="165.50" stroke="#404040" stroke-width="1.4"/><line x1="467.00" y1="7.30" x2="467.00" y2="12.80" stroke="#404040" stroke-width="1.4"/><text x="467.00" y="189.30" text-anchor="middle" font-size="17.5" >6</text><line x1="509.00" y1="171.00" x2="509.00" y2="165.50" stroke="#404040" stroke-width="1.4"/><line x1="509.00" y1="7.30" x2="509.00" y2="12.80" stroke="#404040" stroke-width="1.4"/><text x="509.00" y="189.30" text-anchor="middle" font-size="17.5" >8</text><line x1="551.00" y1="171.00" x2="551.00" y2="165.50" stroke="#404040" stroke-width="1.4"/><line x1="551.00" y1="7.30" x2="551.00" y2="12.80" stroke="#404040" stroke-width="1.4"/><text x="551.00" y="189.30" text-anchor="middle" font-size="17.5" >10</text><text x="593.00" y="189.30" text-anchor="middle" font-size="17.5" >12</text><text x="335.20" y="176.90" text-anchor="end" font-size="17.5" >0</text><line x1="341.00" y1="130.07" x2="346.50" y2="130.07" stroke="#404040" stroke-width="1.4"/><line x1="593.00" y1="130.07" x2="587.50" y2="130.07" stroke="#404040" stroke-width="1.4"/><text x="335.20" y="135.97" text-anchor="end" font-size="17.5" >1</text><line x1="341.00" y1="89.15" x2="346.50" y2="89.15" stroke="#404040" stroke-width="1.4"/><line x1="593.00" y1="89.15" x2="587.50" y2="89.15" stroke="#404040" stroke-width="1.4"/><text x="335.20" y="95.05" text-anchor="end" font-size="17.5" >2</text><line x1="341.00" y1="48.23" x2="346.50" y2="48.23" stroke="#404040" stroke-width="1.4"/><line x1="593.00" y1="48.23" x2="587.50" y2="48.23" stroke="#404040" stroke-width="1.4"/><text x="335.20" y="54.13" text-anchor="end" font-size="17.5" >3</text><text x="335.20" y="13.20" text-anchor="end" font-size="17.5" >4</text><rect x="341.00" y="7.30" width="252.00" height="163.70" fill="none" stroke="#404040" stroke-width="1.4"/><text x="43.10" y="404.00" text-anchor="middle" font-size="17.5" >0</text><line x1="80.92" y1="385.70" x2="80.92" y2="380.20" stroke="#404040" stroke-width="1.4"/><line x1="80.92" y1="226.80" x2="80.92" y2="232.30" stroke="#404040" stroke-width="1.4"/><text x="80.92" y="404.00" text-anchor="middle" font-size="17.5" >2</text><line x1="118.73" y1="385.70" x2="118.73" y2="380.20" stroke="#404040" stroke-width="1.4"/><line x1="118.73" y1="226.80" x2="118.73" y2="232.30" stroke="#404040" stroke-width="1.4"/><text x="118.73" y="404.00" text-anchor="middle" font-size="17.5" >4</text><line x1="156.55" y1="385.70" x2="156.55" y2="380.20" stroke="#404040" stroke-width="1.4"/><line x1="156.55" y1="226.80" x2="156.55" y2="232.30" stroke="#404040" stroke-width="1.4"/><text x="156.55" y="404.00" text-anchor="middle" font-size="17.5" >6</text><line x1="194.37" y1="385.70" x2="194.37" y2="380.20" stroke="#404040" stroke-width="1.4"/><line x1="194.37" y1="226.80" x2="194.37" y2="232.30" stroke="#404040" stroke-width="1.4"/><text x="194.37" y="404.00" text-anchor="middle" font-size="17.5" >8</text><line x1="232.18" y1="385.70" x2="232.18" y2="380.20" stroke="#404040" stroke-width="1.4"/><line x1="232.18" y1="226.80" x2="232.18" y2="232.30" stroke="#404040" stroke-width="1.4"/><text x="232.18" y="404.00" text-anchor="middle" font-size="17.5" >10</text><text x="270.00" y="404.00" text-anchor="middle" font-size="17.5" >12</text><line x1="43.10" y1="353.92" x2="48.60" y2="353.92" stroke="#404040" stroke-width="1.4"/><line x1="270.00" y1="353.92" x2="264.50" y2="353.92" stroke="#404040" stroke-width="1.4"/><text x="37.30" y="359.82" text-anchor="end" font-size="17.5" >1</text><line x1="43.10" y1="290.36" x2="48.60" y2="290.36" stroke="#404040" stroke-width="1.4"/><line x1="270.00" y1="290.36" x2="264.50" y2="290.36" stroke="#404040" stroke-width="1.4"/><text x="37.30" y="296.26" text-anchor="end" font-size="17.5" >2</text><text x="37.30" y="232.70" text-anchor="end" font-size="17.5" >3</text><rect x="43.10" y="226.80" width="226.90" height="158.90" fill="none" stroke="#404040" stroke-width="1.4"/><text x="341.50" y="400.60" text-anchor="middle" font-size="17.5" >0</text><line x1="383.42" y1="382.30" x2="383.42" y2="376.80" stroke="#404040" stroke-width="1.4"/><line x1="383.42" y1="226.80" x2="383.42" y2="232.30" stroke="#404040" stroke-width="1.4"/><text x="383.42" y="400.60" text-anchor="middle" font-size="17.5" >2</text><line x1="425.33" y1="382.30" x2="425.33" y2="376.80" stroke="#404040" stroke-width="1.4"/><line x1="425.33" y1="226.80" x2="425.33" y2="232.30" stroke="#404040" stroke-width="1.4"/><text x="425.33" y="400.60" text-anchor="middle" font-size="17.5" >4</text><line x1="467.25" y1="382.30" x2="467.25" y2="376.80" stroke="#404040" stroke-width="1.4"/><line x1="467.25" y1="226.80" x2="467.25" y2="232.30" stroke="#404040" stroke-width="1.4"/><text x="467.25" y="400.60" text-anchor="middle" font-size="17.5" >6</text><line x1="509.17" y1="382.30" x2="509.17" y2="376.80" stroke="#404040" stroke-width="1.4"/><line x1="509.17" y1="226.80" x2="509.17" y2="232.30" stroke="#404040" stroke-width="1.4"/><text x="509.17" y="400.60" text-anchor="middle" font-size="17.5" >8</text><line x1="551.08" y1="382.30" x2="551.08" y2="376.80" stroke="#404040" stroke-width="1.4"/><line x1="551.08" y1="226.80" x2="551.08" y2="232.30" stroke="#404040" stroke-width="1.4"/><text x="551.08" y="400.60" text-anchor="middle" font-size="17.5" >10</text><text x="593.00" y="400.60" text-anchor="middle" font-size="17.5" >12</text><text x="335.70" y="388.20" text-anchor="end" font-size="17.5" >0</text><line x1="341.50" y1="343.43" x2="347.00" y2="343.43" stroke="#404040" stroke-width="1.4"/><line x1="593.00" y1="343.43" x2="587.50" y2="343.43" stroke="#404040" stroke-width="1.4"/><text x="335.70" y="349.32" text-anchor="end" font-size="17.5" >0.3</text><line x1="341.50" y1="304.55" x2="347.00" y2="304.55" stroke="#404040" stroke-width="1.4"/><line x1="593.00" y1="304.55" x2="587.50" y2="304.55" stroke="#404040" stroke-width="1.4"/><text x="335.70" y="310.45" text-anchor="end" font-size="17.5" >0.6</text><line x1="341.50" y1="265.68" x2="347.00" y2="265.68" stroke="#404040" stroke-width="1.4"/><line x1="593.00" y1="265.68" x2="587.50" y2="265.68" stroke="#404040" stroke-width="1.4"/><text x="335.70" y="271.57" text-anchor="end" font-size="17.5" >0.9</text><text x="335.70" y="232.70" text-anchor="end" font-size="17.5" >1.2</text><rect x="341.50" y="226.80" width="251.50" height="155.50" fill="none" stroke="#404040" stroke-width="1.4"/><text x="47.20" y="24.60" text-anchor="start" font-size="17.5" >(a)</text><text x="344.00" y="24.40" text-anchor="start" font-size="17.5" >(b)</text><text x="50.30" y="244.80" text-anchor="start" font-size="17.5" >(c)</text><text x="344.80" y="246.50" text-anchor="start" font-size="17.5" >(d)</text><text x="109.30" y="206.50" text-anchor="start" font-size="17.5" >Energy (eV)</text><text x="418.80" y="206.50" text-anchor="start" font-size="17.5" >Energy (eV)</text><text x="117.60" y="420.00" text-anchor="start" font-size="17.5" >Energy (eV)</text><text x="426.20" y="420.50" text-anchor="start" font-size="17.5" >Energy (eV)</text><text transform="translate(13.60,98.40) rotate(-90) scale(1,1.1)" x="0" y="0" font-size="17.5"><tspan font-size="18.5">ε</tspan><tspan font-size="12.5" dx="-1.5" dy="5.2">1</tspan><tspan dx="2.5" dy="-5.2">(</tspan><tspan font-size="19.2">ω</tspan><tspan dx="-0.6">)</tspan></text><text transform="translate(306.50,114.20) rotate(-90) scale(1,1.1)" x="0" y="0" font-size="17.5"><tspan font-size="18.5">ε</tspan><tspan font-size="13.5" dx="-0.6" dy="5.2">2</tspan><tspan dx="0.8" dy="-5.2">(</tspan><tspan font-size="19.2">ω</tspan><tspan dx="-0.6">)</tspan></text><text transform="translate(22.20,303.30) rotate(-90) scale(1,1.1)" x="0" y="0" font-size="17.5">n(<tspan font-size="19.2">ω</tspan>)</text><text transform="translate(313.80,304.50) rotate(-90) scale(1,1.1)" x="0" y="0" font-size="17.5">k(<tspan font-size="19.2">ω</tspan>)</text><line x1="172.70" y1="21.80" x2="198.10" y2="21.80" stroke="#000" stroke-width="2.2"/><line x1="173.20" y1="42.50" x2="199.10" y2="42.50" stroke="#ff0000" stroke-width="2.2"/><text x="202.80" y="27.60" text-anchor="start" font-size="17.5" >CsGeBr<tspan font-size="13" dy="6.4">3</tspan></text><text x="202.30" y="48.20" text-anchor="start" font-size="17.5" >CsSnBr<tspan font-size="13" dy="6.4">3</tspan></text><line x1="373.70" y1="135.30" x2="373.70" y2="161.80" stroke="#0000ff" stroke-width="1.8"/><line x1="386.80" y1="134.80" x2="386.80" y2="161.20" stroke="#0000ff" stroke-width="1.8"/><line x1="374.40" y1="349.20" x2="374.40" y2="375.60" stroke="#0000ff" stroke-width="1.8"/><line x1="387.40" y1="347.90" x2="387.40" y2="374.60" stroke="#0000ff" stroke-width="1.8"/></svg>
</body></html>
